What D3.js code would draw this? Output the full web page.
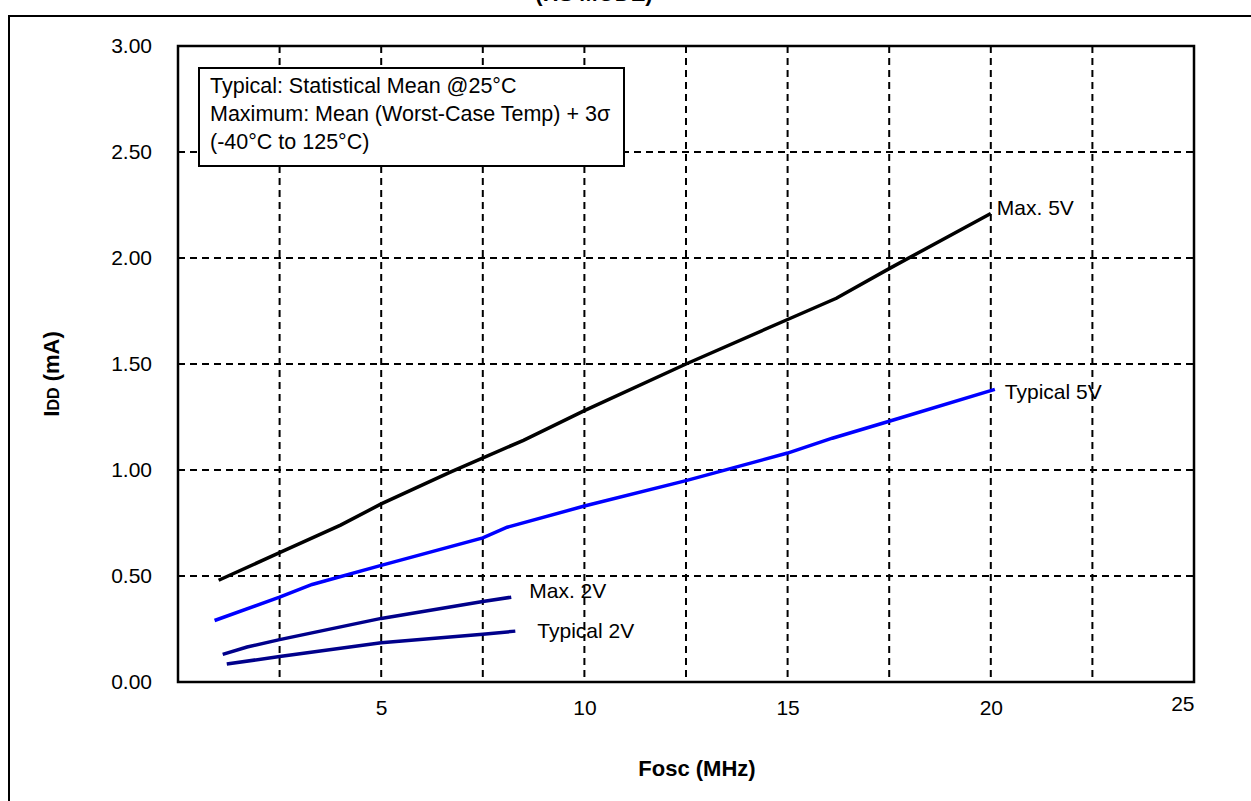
<!DOCTYPE html>
<html>
<head>
<meta charset="utf-8">
<script src="https://cdn.jsdelivr.net/npm/d3@7"></script>
<style>
  body { margin: 0; background: #fff; }
  text { font-family: "Liberation Sans", Arial, sans-serif; fill: #000; }
</style>
</head>
<body>
<div id="graph"></div>
<script>
// data (Fosc in MHz, Idd in mA)
const max5V = [[1.0,0.48],[2.5,0.61],[4.0,0.74],[5.0,0.84],[6.7,0.99],[8.5,1.14],[10.0,1.28],[12.5,1.50],[15.0,1.71],[16.2,1.81],[17.5,1.95],[20.0,2.21]];
const typ5V = [[0.9,0.29],[2.5,0.40],[3.3,0.46],[5.0,0.55],[7.5,0.68],[8.1,0.73],[10.0,0.83],[12.5,0.95],[15.0,1.08],[16.1,1.15],[17.5,1.23],[20.1,1.38]];
const max2V = [[1.1,0.13],[1.7,0.165],[2.5,0.20],[5.0,0.30],[7.5,0.38],[8.2,0.40]];
const typ2V = [[1.2,0.085],[2.5,0.12],[5.0,0.185],[7.5,0.225],[8.3,0.24]];

const seriesNames = ["Max. 5V", "Typical 5V", "Max. 2V", "Typical 2V"];
const seriesColors = ["#000000", "#0000ff", "#00008b", "#00008b"];

const xTicks = [5, 10, 15, 20, 25];
const xGrid = [2.5, 5, 7.5, 10, 12.5, 15, 17.5, 20, 22.5];
const yTicks = [0, 0.5, 1, 1.5, 2, 2.5, 3];
const yGrid = [0.5, 1, 1.5, 2, 2.5];

const noteLines = ["Typical: Statistical Mean @25\u00B0C", "Maximum: Mean (Worst-Case Temp) + 3\u03C3", "(-40\u00B0C to 125\u00B0C)"];

const w = 1251;
const h = 801;
const pLeft = 178, pRight = 1194, pTop = 46, pBottom = 682;

const svg = d3.select('#graph')
    .append('svg')
    .attr('width', w)
    .attr('height', h);

// outer frame (runs past the right and bottom edges)
svg.append('rect')
    .attr('x', 9).attr('y', 16)
    .attr('width', 1300).attr('height', 900)
    .attr('fill', 'none').attr('stroke', '#000').attr('stroke-width', 2);

// title, mostly cut off above the page
svg.append('text')
    .attr('x', 594).attr('y', 1)
    .attr('text-anchor', 'middle')
    .style('font-size', '22px').style('font-weight', 'bold')
    .text('(HS MODE)');

const xScale = d3.scaleLinear().domain([0, 25]).range([pLeft, pRight]);
const yScale = d3.scaleLinear().domain([0, 3]).range([pBottom, pTop]);

// grid
svg.append('g').selectAll('line')
    .data(xGrid).enter().append('line')
    .attr('x1', d => xScale(d)).attr('x2', d => xScale(d))
    .attr('y1', pTop).attr('y2', pBottom)
    .attr('stroke', '#000').attr('stroke-width', 2)
    .attr('stroke-dasharray', '7,5');

svg.append('g').selectAll('line')
    .data(yGrid).enter().append('line')
    .attr('x1', pLeft).attr('x2', pRight)
    .attr('y1', d => yScale(d)).attr('y2', d => yScale(d))
    .attr('stroke', '#000').attr('stroke-width', 2)
    .attr('stroke-dasharray', '7,5');

// axes
const xAxis = d3.axisBottom(xScale).tickValues(xTicks).tickSize(0).tickPadding(18).tickFormat(d3.format('d'));
const yAxis = d3.axisLeft(yScale).tickValues(yTicks).tickSize(0).tickPadding(26).tickFormat(d3.format('.2f'));

const gx = svg.append('g')
    .attr('transform', 'translate(0,' + pBottom + ')')
    .call(xAxis);
gx.select('.domain').remove();
gx.selectAll('text').style('font-size', '21px').style('font-family', '"Liberation Sans", Arial, sans-serif');
gx.selectAll('.tick').filter(d => d === 25).select('text').attr('text-anchor', 'end').attr('dy', '0.5em');

const gy = svg.append('g')
    .attr('transform', 'translate(' + pLeft + ',0)')
    .call(yAxis);
gy.select('.domain').remove();
gy.selectAll('text').style('font-size', '21px').style('font-family', '"Liberation Sans", Arial, sans-serif');

// plot frame
svg.append('rect')
    .attr('x', pLeft).attr('y', pTop)
    .attr('width', pRight - pLeft).attr('height', pBottom - pTop)
    .attr('fill', 'none').attr('stroke', '#000').attr('stroke-width', 2.5);

// series
const line = d3.line()
    .x(d => xScale(d[0]))
    .y(d => yScale(d[1]));

const allSeries = [max5V, typ5V, max2V, typ2V];
svg.append('g').selectAll('path')
    .data(allSeries).enter().append('path')
    .attr('d', line)
    .attr('fill', 'none')
    .attr('stroke', (d, i) => seriesColors[i])
    .attr('stroke-width', 3.5);

// series labels
const labelOffsets = [[6, -6], [10, 2], [18, -7], [22, 0]];
svg.append('g').selectAll('text')
    .data(allSeries).enter().append('text')
    .attr('x', (d, i) => xScale(d[d.length - 1][0]) + labelOffsets[i][0])
    .attr('y', (d, i) => yScale(d[d.length - 1][1]) + labelOffsets[i][1])
    .attr('dy', '0.35em')
    .style('font-size', '21px')
    .text((d, i) => seriesNames[i]);

// note box
svg.append('rect')
    .attr('x', 199).attr('y', 68)
    .attr('width', 425).attr('height', 98)
    .attr('fill', '#fff').attr('stroke', '#000').attr('stroke-width', 2);

svg.append('g').selectAll('text')
    .data(noteLines).enter().append('text')
    .attr('x', 210)
    .attr('y', (d, i) => 93 + i * 28)
    .style('font-size', '21.5px')
    .text(d => d);

// axis titles
svg.append('text')
    .attr('x', 697).attr('y', 776)
    .attr('text-anchor', 'middle')
    .style('font-size', '22px').style('font-weight', 'bold')
    .text('Fosc (MHz)');

const yTitle = svg.append('text')
    .attr('transform', 'translate(59,374) rotate(-90)')
    .attr('text-anchor', 'middle')
    .style('font-size', '22px').style('font-weight', 'bold');
yTitle.append('tspan').text('I');
yTitle.append('tspan').style('font-size', '16px').text('DD');
yTitle.append('tspan').text(' (mA)');
</script>
</body>
</html>
